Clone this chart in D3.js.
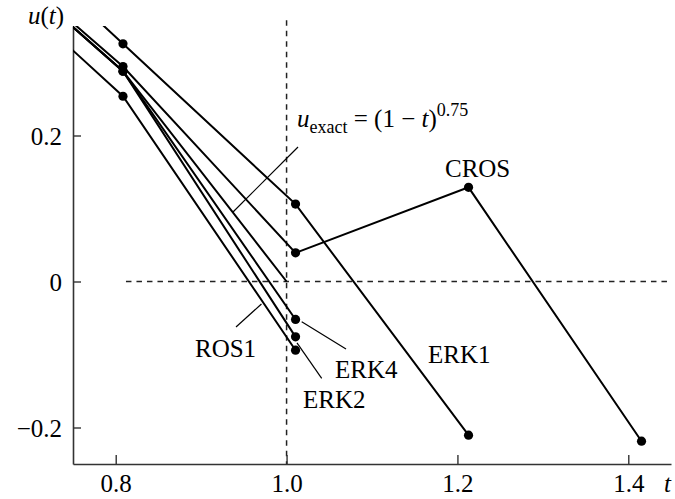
<!DOCTYPE html>
<html>
<head>
<meta charset="utf-8">
<script src="https://cdn.jsdelivr.net/npm/d3@7"></script>
<style>
  body { margin: 0; background: #fff; }
</style>
</head>
<body>
<script>
// step times (first one lies off the plot and gets clipped)
var stepT = [0.6085, 0.8085, 1.0105, 1.213, 1.4155];

var erk1 = [0.544, 0.3256, 0.106, -0.2105];
var cros = [0.498, 0.2945, 0.0393, 0.129, -0.2188];
var erk2 = [0.495, 0.288, -0.0758];
var erk4 = [0.495, 0.288, -0.052];
var ros1 = [0.468, 0.2538, -0.0941];

// exact solution sampled at a few points
var exactT = [0.6085, 0.8085, 1.0];
var exactU = [0.495, 0.288, 0.0];

var xTicks = [0.8, 1.0, 1.2, 1.4];
var yTicks = [-0.2, 0, 0.2];

var width = 675, height = 499;
var margin = {top: 26, right: 4, bottom: 35, left: 73};
var serif = "'Liberation Serif'";

var x = d3.scaleLinear()
    .domain([0.75, 1.45])
    .range([margin.left, width - margin.right]);

var y = d3.scaleLinear()
    .domain([-0.25, 0.35])
    .range([height - margin.bottom, margin.top]);

var svg = d3.select("body").append("svg")
    .attr("width", width)
    .attr("height", height);

svg.append("clipPath").attr("id", "plot")
  .append("rect")
    .attr("x", x(0.75))
    .attr("y", y(0.35))
    .attr("width", x(1.45) - x(0.75))
    .attr("height", y(-0.25) - y(0.35));

// dashed guides at t = 1 and u = 0
svg.append("line")
    .attr("x1", x(1.0)).attr("x2", x(1.0))
    .attr("y1", y(0.358)).attr("y2", y(-0.25))
    .attr("stroke", "#222").attr("stroke-width", 1.5)
    .attr("stroke-dasharray", "5.5,5");

svg.append("line")
    .attr("x1", x(0.812)).attr("x2", x(1.45))
    .attr("y1", y(0)).attr("y2", y(0))
    .attr("stroke", "#222").attr("stroke-width", 1.5)
    .attr("stroke-dasharray", "5.5,5");

// Axes
var xAxis = svg.append("g")
    .attr("transform", "translate(0," + y(-0.25) + ")")
    .call(d3.axisBottom(x).tickValues(xTicks)
        .tickFormat(d3.format(".1f"))
        .tickSize(-9).tickSizeOuter(0).tickPadding(10));

var yAxis = svg.append("g")
    .attr("transform", "translate(" + x(0.75) + ",0)")
    .call(d3.axisLeft(y).tickValues(yTicks)
        .tickFormat(function(d) { return d === 0 ? "0" : d3.format(".1f")(d); })
        .tickSize(-8).tickSizeOuter(0).tickPadding(11));

[xAxis, yAxis].forEach(function(g) {
  g.select(".domain").attr("stroke", "#333").attr("stroke-width", 1.6);
  g.selectAll(".tick line").attr("stroke", "#333").attr("stroke-width", 1.4);
  g.selectAll(".tick text")
      .style("font-family", serif)
      .style("font-size", "25px")
      .attr("fill", "#000");
});
yAxis.selectAll(".tick text").attr("dy", "0.35em");

// axis titles
var ut = svg.append("text")
    .attr("x", 28).attr("y", 24)
    .style("font-family", serif)
    .style("font-size", "25px");
ut.append("tspan").style("font-style", "italic").text("u");
ut.append("tspan").text("(");
ut.append("tspan").style("font-style", "italic").text("t");
ut.append("tspan").text(")");

svg.append("text")
    .attr("x", 664).attr("y", 492)
    .style("font-family", serif)
    .style("font-size", "25px")
    .style("font-style", "italic")
    .text("t");

// Method curves
var line = d3.line()
    .x(function(d) { return x(d[0]); })
    .y(function(d) { return y(d[1]); });

var series = [
  {name: "ERK1", u: erk1},
  {name: "CROS", u: cros},
  {name: "ERK2", u: erk2},
  {name: "ERK4", u: erk4},
  {name: "ROS1", u: ros1}
].map(function(s) {
  return {name: s.name, pts: s.u.map(function(v, i) { return [stepT[i], v]; })};
});

var plot = svg.append("g").attr("clip-path", "url(#plot)");

plot.append("path")
    .datum(exactT.map(function(t, i) { return [t, exactU[i]]; }))
    .attr("fill", "none")
    .attr("stroke", "#000")
    .attr("stroke-width", 2)
    .attr("d", line);

plot.selectAll(".method")
    .data(series)
    .enter().append("path")
    .attr("class", "method")
    .attr("fill", "none")
    .attr("stroke", "#000")
    .attr("stroke-width", 2)
    .attr("d", function(d) { return line(d.pts); });

// dots (skip the clipped first step)
svg.selectAll(".dots")
    .data(series)
    .enter().append("g")
    .selectAll("circle")
    .data(function(d) { return d.pts.slice(1); })
    .enter().append("circle")
    .attr("cx", function(d) { return x(d[0]); })
    .attr("cy", function(d) { return y(d[1]); })
    .attr("r", 4.6)
    .attr("fill", "#000");

// Labels and leader lines (data coordinates)
var leaders = [
  [[1.0134, 0.1842], [0.9373, 0.0952]],
  [[0.9408, -0.0623], [0.9706, -0.0308]],
  [[1.0177, -0.0551], [1.0696, -0.0925]],
  [[1.0122, -0.0842], [1.0411, -0.1326]]
];
svg.selectAll(".leader")
    .data(leaders)
    .enter().append("path")
    .attr("class", "leader")
    .attr("fill", "none")
    .attr("stroke", "#000")
    .attr("stroke-width", 1.2)
    .attr("d", line);

var labels = [
  {text: "CROS", t: 1.1854, u: 0.1432},
  {text: "ERK1", t: 1.1655, u: -0.1116},
  {text: "ERK4", t: 1.0567, u: -0.1322},
  {text: "ERK2", t: 1.0192, u: -0.1733},
  {text: "ROS1", t: 0.8928, u: -0.1034}
];
svg.selectAll(".lbl")
    .data(labels)
    .enter().append("text")
    .attr("class", "lbl")
    .attr("x", function(d) { return x(d.t); })
    .attr("y", function(d) { return y(d.u); })
    .style("font-family", serif)
    .style("font-size", "25px")
    .text(function(d) { return d.text; });

var ex = svg.append("text")
    .attr("x", x(1.0122)).attr("y", y(0.2116))
    .style("font-family", serif)
    .style("font-size", "25px");
ex.append("tspan").style("font-style", "italic").text("u");
ex.append("tspan").attr("dy", 6).style("font-size", "18px").text("exact");
ex.append("tspan").attr("dy", -6).text(" = (1 \u2212 ");
ex.append("tspan").style("font-style", "italic").text("t");
ex.append("tspan").text(")");
ex.append("tspan").attr("dy", -11).style("font-size", "18px").text("0.75");
</script>
</body>
</html>
